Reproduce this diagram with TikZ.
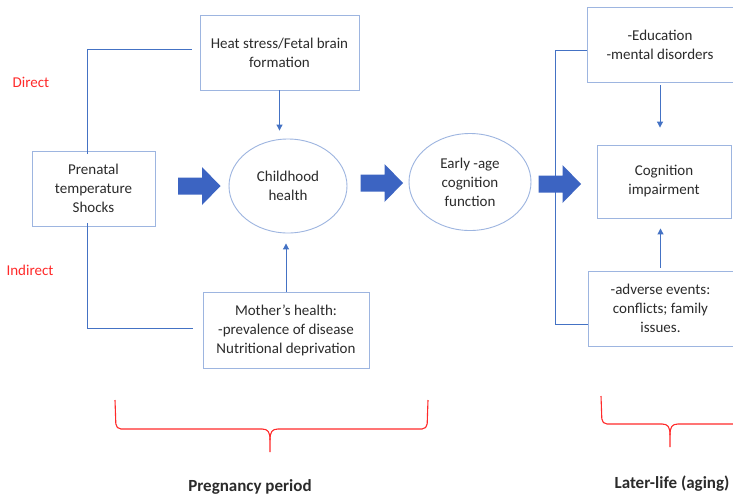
\documentclass[tikz,border=0pt]{standalone}
\usepackage{fontspec}
\setmainfont{Carlito}
\usetikzlibrary{shapes.geometric,arrows.meta}
\definecolor{boxc}{HTML}{9DB5E0}
\definecolor{linec}{HTML}{4472C4}
\definecolor{arrc}{HTML}{3C64C2}
\definecolor{txt}{HTML}{2B2B2B}
\definecolor{brc}{HTML}{FF2A2A}
\tikzset{
  box/.style={draw=boxc, line width=0.9pt, align=center, inner sep=0pt, text=txt,
    font=\fontsize{15}{19}\selectfont},
  oval/.style={ellipse, draw=boxc, line width=0.9pt, align=center, inner sep=0pt, text=txt,
    font=\fontsize{15}{19}\selectfont},
  conn/.style={draw=linec, line width=1pt},
  arr/.style={conn, -{Triangle[width=6pt,length=6pt]}},
  blockarrow/.pic={\fill[arrc] (-21,-8.5) -- (3,-8.5) -- (3,-19) -- (21.5,0) -- (3,19) -- (3,8.5) -- (-21,8.5) -- cycle;},
  brace/.style={draw=brc, line width=1.1pt},
  redlab/.style={text=brc, font=\fontsize{15}{18}\selectfont},
  period/.style={text=txt, font=\fontsize{17}{20}\selectfont\bfseries, anchor=base}
}
\begin{document}
\begin{tikzpicture}[x=1pt,y=-1pt]
\useasboundingbox[fill=white] (0,0) rectangle (733,496);

% boxes
\node[box, minimum width=159pt, minimum height=75pt] (heat) at (279.5,52.5) {Heat stress/Fetal brain\\formation};
\node[box, minimum width=123pt, minimum height=75pt] (pren) at (93.5,188.5) {Prenatal\\temperature\\Shocks};
\node[box, minimum width=166pt, minimum height=76pt] (moth) at (286,330) {Mother’s health:\\-prevalence of disease\\Nutritional deprivation};
\node[oval, minimum width=118pt, minimum height=94pt] (child) at (288,186) {Childhood\\health};
\node[oval, minimum width=122pt, minimum height=97pt] (early) at (470,182) {Early -age\\cognition\\function};
\node[box, minimum width=146pt, minimum height=75pt] (edu) at (660,44.5) {-Education\\-mental disorders};
\node[box, minimum width=134pt, minimum height=73pt] (cog) at (664,181.5) {Cognition\\impairment};
\node[box, minimum width=145pt, minimum height=75pt] (adv) at (660.5,308.5) {-adverse events:\\conflicts; family\\issues.};

% labels
\node[redlab] (direct) at (31,82) {Direct};
\node[redlab] (indirect) at (30,270) {Indirect};

% side connectors (pregnancy)
\coordinate (pt) at (87,49);
\coordinate (pb) at (87,328);
\draw[conn] ([xshift=-8pt]heat.west |- pt) -- (pt) -- ([yshift=-3pt]pt |- pren.north);
\draw[conn] ([yshift=3pt]pt |- pren.south) -- (pb) -- ([xshift=-10pt]moth.west |- pb);

% side connectors (later life)
\coordinate (lt) at (555,50);
\coordinate (lb) at (555,324);
\draw[conn] (edu.west |- lt) -- (lt) -- (lb) -- (adv.west |- lb);

% thin arrows
\draw[arr, shorten >=8pt] (heat.south) -- (heat.south |- child.north);
\draw[arr, shorten >=10pt] (moth.north) -- (moth.north |- child.south);
\draw[arr, shorten <=3pt, shorten >=17pt] (edu.south) -- (edu.south |- cog.north);
\draw[arr, shorten <=3pt, shorten >=10pt] (adv.north) -- (adv.north |- cog.south);

% block arrows
\pic at (199,186) {blockarrow};
\pic at (381.5,183) {blockarrow};
\pic at (559.5,184) {blockarrow};

% braces
\draw[brace, rounded corners=5pt] (115,400) -- (116,429) -- (262,429);
\draw[brace] (262,429) .. controls (268,429) and (270,432) .. (270,440) -- (270,452);
\draw[brace] (270,440) .. controls (270,432) and (272,429) .. (278,429);
\draw[brace, rounded corners=5pt] (278,429) -- (427,429) -- (428,400);

\draw[brace, rounded corners=5pt] (601,396) -- (602,424) -- (662,424);
\draw[brace] (662,424) .. controls (668,424) and (670,427) .. (670,435) -- (670,447);
\draw[brace] (670,435) .. controls (670,427) and (672,424) .. (678,424) -- (733,424);

% period labels
\node[period] (preg) at (250,491) {Pregnancy period};
\node[period] (later) at (672,488) {Later-life (aging)};
\end{tikzpicture}
\end{document}
